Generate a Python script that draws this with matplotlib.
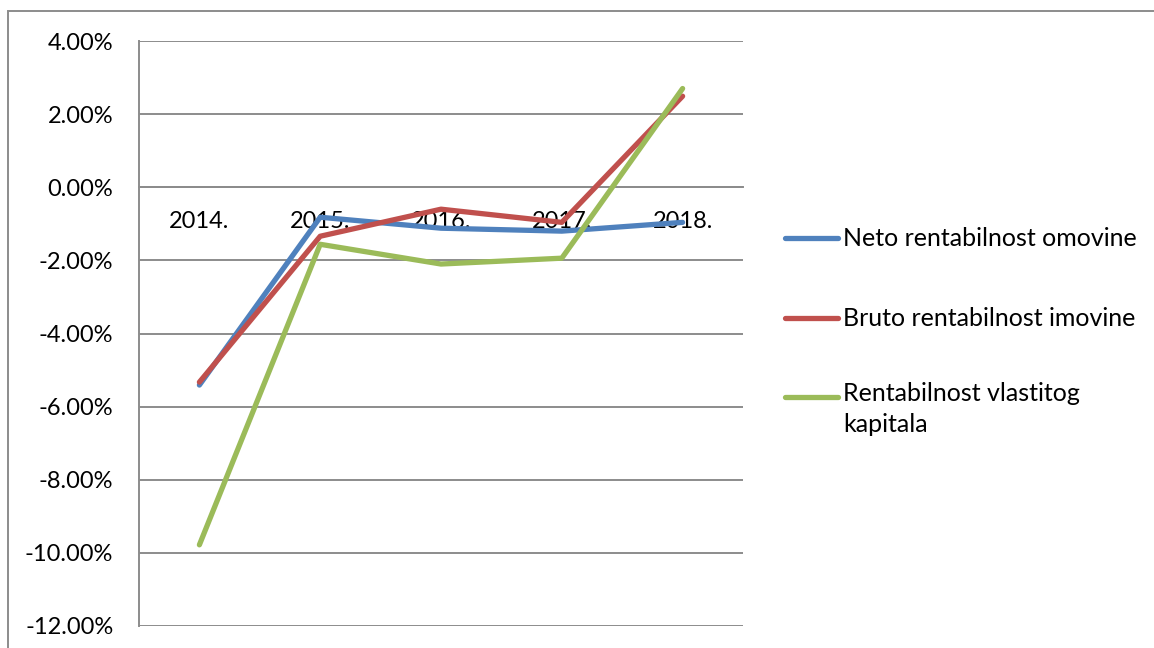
import numpy as np
import matplotlib.pyplot as plt
from matplotlib.lines import Line2D
from matplotlib.patches import Rectangle
from matplotlib.ticker import FuncFormatter

plt.rcParams['font.family'] = ['Lato', 'DejaVu Sans']

# data (percent)
years = ['2014.', '2015.', '2016.', '2017.', '2018.']
neto = [-5.41, -0.82, -1.12, -1.20, -0.96]
bruto = [-5.33, -1.34, -0.60, -0.96, 2.49]
vlastiti = [-9.78, -1.56, -2.10, -1.94, 2.70]
labels = ['Neto rentabilnost omovine', 'Bruto rentabilnost imovine',
          'Rentabilnost vlastitog\nkapitala']
colors = ['#4F81BD', '#C0504D', '#9BBB59']

W, H = 1154, 648
fig = plt.figure(figsize=(W / 100, H / 100), dpi=100)
ax = fig.add_axes([139 / W, 1 - 626 / H, (743 - 139) / W, (626 - 41) / H])

x = np.arange(len(years))
for vals, c in zip([neto, bruto, vlastiti], colors):
    ax.plot(x, vals, color=c, lw=3.8, solid_capstyle='round',
            solid_joinstyle='round', zorder=3)

ax.set_xlim(-0.5, len(years) - 0.5)
ax.set_ylim(-12, 4)
ax.set_yticks(np.arange(-12, 4.1, 2))
ax.yaxis.set_major_formatter(FuncFormatter(lambda v, p: f'{v:.2f}%'))
ax.grid(axis='y', color='#8c8c8c', lw=1.4)
ax.set_axisbelow(True)

# category axis crosses at zero
ax.spines['bottom'].set_position(('data', 0))
ax.spines['bottom'].set_color('#8c8c8c')
ax.spines['bottom'].set_linewidth(1.4)
ax.spines['left'].set_color('#8c8c8c')
ax.spines['left'].set_linewidth(1.4)
ax.spines['top'].set_visible(False)
ax.spines['right'].set_visible(False)
ax.set_xticks(x)
ax.set_xticklabels(years)
ax.tick_params(axis='x', length=0, pad=17, labelsize=17)
ax.tick_params(axis='y', length=0, pad=18.5, labelsize=17)

# legend on the right
ly = [238, 318, 397]
for lab, c, yy in zip(labels, colors, ly):
    fy = 1 - yy / H
    fig.add_artist(Line2D([785 / W, 838 / W], [fy, fy], color=c, lw=3.8,
                          solid_capstyle='round', transform=fig.transFigure))
    fig.text(843 / W, fy, lab, fontsize=18, va='top' if '\n' in lab else 'center',
             linespacing=1.4)

fig.texts[-1].set_y(1 - (397 - 15) / H)

# chart area border
fig.add_artist(Rectangle((8 / W, -0.1), 1.1, 1 - 11 / H + 0.1, fill=False,
                         edgecolor='#8c8c8c', lw=1.4, transform=fig.transFigure))

fig.savefig('out.png', dpi=100)
